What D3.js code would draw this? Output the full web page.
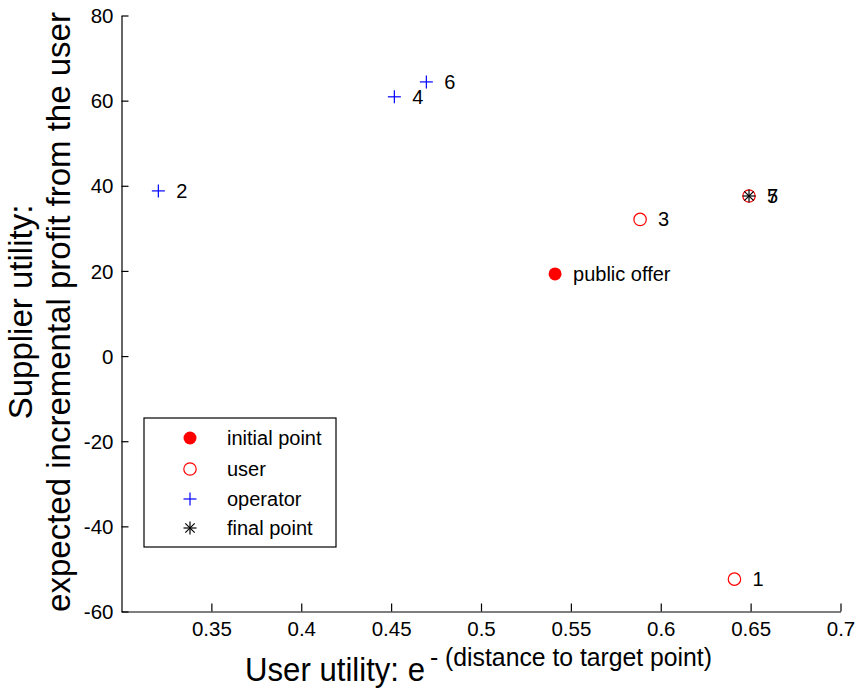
<!DOCTYPE html>
<html>
<head>
<meta charset="utf-8">
<script src="https://cdn.jsdelivr.net/npm/d3@7"></script>
<style>
  html, body { margin: 0; padding: 0; background: #fff; }
  svg { display: block; font-family: "Liberation Sans", Arial, Helvetica, sans-serif; }
</style>
</head>
<body>
<svg id="chart" width="858" height="690"></svg>
<script>
// Negotiation rounds: user offers (odd rounds) and operator counter-offers (even rounds)
const userX = [0.641, 0.5885, 0.6491];
const userY = [-52.4, 32.1, 37.6];
const userLabels = ["1", "3", "5"];

const operatorX = [0.3205, 0.4518, 0.4696];
const operatorY = [38.8, 60.9, 64.4];
const operatorLabels = ["2", "4", "6"];

const initialX = [0.5412];
const initialY = [19.3];
const initialLabels = ["public offer"];

const finalX = [0.6491];
const finalY = [37.6];
const finalLabels = ["7"];

const xTicks = [0.35, 0.4, 0.45, 0.5, 0.55, 0.6, 0.65, 0.7];
const yTicks = [-60, -40, -20, 0, 20, 40, 60, 80];

const legendNames = ["initial point", "user", "operator", "final point"];

const svg = d3.select("#chart");
const W = 858, H = 690;
const margin = { left: 121.5, right: W - 840.5, top: 15.5, bottom: H - 611.5 };

const x = d3.scaleLinear().domain([0.3, 0.7]).range([margin.left, W - margin.right]);
const y = d3.scaleLinear().domain([-60, 80]).range([H - margin.bottom, margin.top]);

const RED = "#ff0000", BLUE = "#0000ff", BLACK = "#000000";

// Axes (ticks point inward), plain hyphen for negative numbers
const xAxis = d3.axisBottom(x).tickValues(xTicks).tickSizeInner(-8).tickSizeOuter(0)
  .tickPadding(10).tickFormat(d => String(+d.toFixed(2)));
const yAxis = d3.axisLeft(y).tickValues(yTicks).tickSizeInner(-7).tickSizeOuter(0)
  .tickPadding(8).tickFormat(d => String(d));

const gx = svg.append("g").attr("transform", `translate(0,${y(-60)})`).call(xAxis);
const gy = svg.append("g").attr("transform", `translate(${x(0.3)},0)`).call(yAxis);

[gx, gy].forEach(g => {
  g.select(".domain").attr("stroke", BLACK).attr("stroke-width", 1.2);
  g.selectAll(".tick line").attr("stroke", BLACK).attr("stroke-width", 1.2);
  g.selectAll(".tick text").attr("fill", BLACK).attr("font-size", 20.5)
    .attr("font-family", "Liberation Sans, Arial, sans-serif");
});
gy.selectAll(".tick text").attr("dy", "0.35em");
gx.selectAll(".tick text").attr("dy", "0.71em");

// Marker drawers
function plus(g, cx, cy, s, color) {
  g.append("line").attr("x1", cx - s).attr("x2", cx + s).attr("y1", cy).attr("y2", cy)
    .attr("stroke", color).attr("stroke-width", 1.2);
  g.append("line").attr("x1", cx).attr("x2", cx).attr("y1", cy - s).attr("y2", cy + s)
    .attr("stroke", color).attr("stroke-width", 1.2);
}
function star(g, cx, cy, s, color) {
  plus(g, cx, cy, s, color);
  const d = s * 0.72;
  g.append("line").attr("x1", cx - d).attr("x2", cx + d).attr("y1", cy - d).attr("y2", cy + d)
    .attr("stroke", color).attr("stroke-width", 1.2);
  g.append("line").attr("x1", cx - d).attr("x2", cx + d).attr("y1", cy + d).attr("y2", cy - d)
    .attr("stroke", color).attr("stroke-width", 1.2);
}
function openCircle(g, cx, cy, r, color) {
  g.append("circle").attr("cx", cx).attr("cy", cy).attr("r", r)
    .attr("fill", "none").attr("stroke", color).attr("stroke-width", 1.2);
}
function dot(g, cx, cy, r, color) {
  g.append("circle").attr("cx", cx).attr("cy", cy).attr("r", r).attr("fill", color);
}
function label(g, cx, cy, text) {
  g.append("text").attr("x", cx + 18).attr("y", cy).attr("dy", "0.35em")
    .attr("font-size", 20).attr("fill", BLACK).text(text);
}

const plot = svg.append("g");

// Initial point
initialX.forEach((v, i) => {
  dot(plot, x(v), y(initialY[i]), 6.5, RED);
  label(plot, x(v), y(initialY[i]), initialLabels[i]);
});
// User offers
userX.forEach((v, i) => {
  openCircle(plot, x(v), y(userY[i]), 6.2, RED);
  label(plot, x(v), y(userY[i]), userLabels[i]);
});
// Operator offers
operatorX.forEach((v, i) => {
  plus(plot, x(v), y(operatorY[i]), 6.5, BLUE);
  label(plot, x(v), y(operatorY[i]), operatorLabels[i]);
});
// Final agreement
finalX.forEach((v, i) => {
  star(plot, x(v), y(finalY[i]), 6.5, BLACK);
  label(plot, x(v), y(finalY[i]), finalLabels[i]);
});

// Legend
const lg = svg.append("g");
lg.append("rect").attr("x", 144).attr("y", 418).attr("width", 192).attr("height", 129)
  .attr("fill", "#fff").attr("stroke", BLACK).attr("stroke-width", 1.2);
const rowY = [438, 469, 499, 528];
const mx = 190;
dot(lg, mx, rowY[0], 6.5, RED);
openCircle(lg, mx, rowY[1], 6.2, RED);
plus(lg, mx, rowY[2], 6.5, BLUE);
star(lg, mx, rowY[3], 6.5, BLACK);
legendNames.forEach((n, i) => {
  lg.append("text").attr("x", 227).attr("y", rowY[i]).attr("dy", "0.35em")
    .attr("font-size", 20).attr("fill", BLACK).text(n);
});

// Axis titles
const yt = svg.append("g").attr("font-size", 33).attr("fill", BLACK).attr("text-anchor", "middle");
yt.append("text").attr("transform", "translate(32,312) rotate(-90)").text("Supplier utility:");
yt.append("text").attr("transform", "translate(70,312) rotate(-90)")
  .text("expected incremental profit from the user");

const xt = svg.append("text").attr("fill", BLACK);
xt.append("tspan").attr("x", 245).attr("y", 681).attr("font-size", 33)
  .attr("textLength", 180).attr("lengthAdjust", "spacingAndGlyphs").text("User utility: e");
xt.append("tspan").attr("x", 430).attr("y", 666).attr("font-size", 25)
  .attr("textLength", 282).attr("lengthAdjust", "spacingAndGlyphs").text("- (distance to target point)");
</script>
</body>
</html>
